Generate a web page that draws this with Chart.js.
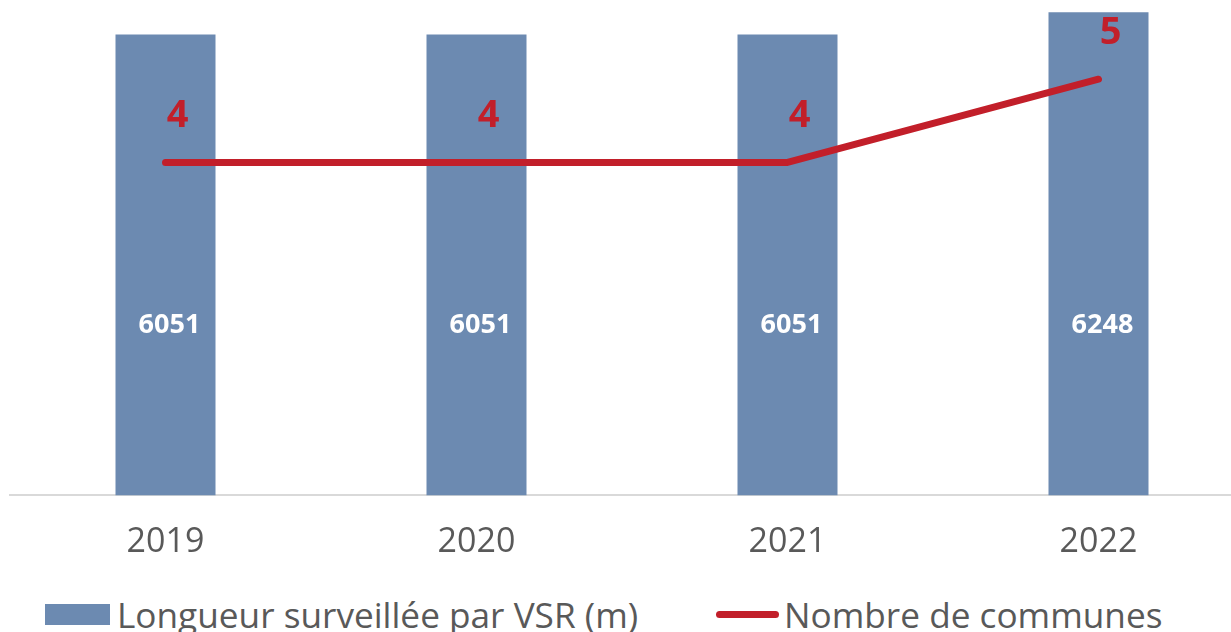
<!DOCTYPE html>
<html lang="fr">
<head>
<meta charset="utf-8">
<script src="https://cdn.jsdelivr.net/npm/chart.js@4.4.1/dist/chart.umd.min.js"></script>
<style>
  html, body { margin: 0; padding: 0; background: #fff; overflow: hidden; }
  #wrap { position: relative; width: 1231px; height: 632px; overflow: hidden; }
  #vsrChart { position: absolute; left: 0; top: -4px; }
  #legende {
    position: absolute; left: 45px; top: 590px;
    display: flex; align-items: center;
    font-family: "Open Sans", sans-serif; font-size: 35.2px; color: #595959;
    white-space: nowrap;
  }
  .item { display: flex; align-items: center; margin-right: 78px; }
  .box { width: 65px; height: 21px; margin-right: 7px; }
  .trait { width: 63px; height: 7px; border-radius: 4px; margin-right: 5px; }
</style>
</head>
<body>
<div id="wrap">
  <canvas id="vsrChart" width="1260" height="594"></canvas>
  <div id="legende"></div>
</div>
<script>
const years = ['2019', '2020', '2021', '2022'];
const longueurVSR = [6051, 6051, 6051, 6248];
const nbCommunes = [4, 4, 4, 5];

const bleu = '#6c8ab1';
const rouge = '#c21f2a';
const gris = '#595959';

// étiquettes de valeurs (barres et courbe)
const valeurs = {
    id: 'valeurs',
    afterDatasetsDraw(chart) {
        const ctx = chart.ctx;
        const bas = chart.scales.yLongueur.bottom;
        ctx.save();
        ctx.textAlign = 'center';
        ctx.textBaseline = 'middle';
        ctx.fillStyle = '#ffffff';
        ctx.font = 'bold 27px "Open Sans", sans-serif';
        chart.getDatasetMeta(1).data.forEach((bar, i) => {
            ctx.fillText(longueurVSR[i], bar.x + 4, bas - 170);
        });
        ctx.fillStyle = rouge;
        ctx.font = 'bold 38px "Open Sans", sans-serif';
        chart.getDatasetMeta(0).data.forEach((pt, i) => {
            ctx.fillText(nbCommunes[i], pt.x + 12, pt.y - 46);
        });
        ctx.restore();
    }
};

const ctx = document.getElementById('vsrChart').getContext('2d');
const vsrChart = new Chart(ctx, {
    type: 'bar',
    data: {
        labels: years,
        datasets: [{
            type: 'line',
            label: 'Nombre de communes',
            data: nbCommunes,
            yAxisID: 'yCommunes',
            borderColor: rouge,
            backgroundColor: rouge,
            borderWidth: 7,
            borderCapStyle: 'round',
            borderJoinStyle: 'round',
            pointRadius: 0,
            tension: 0,
            order: 0
        }, {
            label: 'Longueur surveillée par VSR (m)',
            data: longueurVSR,
            yAxisID: 'yLongueur',
            backgroundColor: bleu,
            barPercentage: 100 / 311,
            categoryPercentage: 1,
            order: 1
        }]
    },
    options: {
        responsive: false,
        animation: false,
        layout: { padding: { left: 10, right: 6, top: 0, bottom: 0 } },
        plugins: {
            legend: { display: false },
            tooltip: { enabled: false }
        },
        scales: {
            x: {
                grid: { display: false, drawTicks: false },
                border: { display: true, color: '#d9d9d9', width: 2 },
                ticks: {
                    color: gris,
                    padding: 27,
                    font: { family: '"Open Sans", sans-serif', size: 34 }
                }
            },
            yLongueur: {
                display: false,
                min: 2000,
                max: 6390
            },
            yCommunes: {
                display: false,
                position: 'right',
                min: 0,
                max: 6
            }
        }
    },
    plugins: [valeurs]
});

// légende
const legende = document.getElementById('legende');
legende.innerHTML =
    '<div class="item"><div class="box" style="background:' + bleu + '"></div>' +
    vsrChart.data.datasets[1].label + '</div>' +
    '<div class="item"><div class="trait" style="background:' + rouge + '"></div>' +
    vsrChart.data.datasets[0].label + '</div>';
</script>
</body>
</html>
